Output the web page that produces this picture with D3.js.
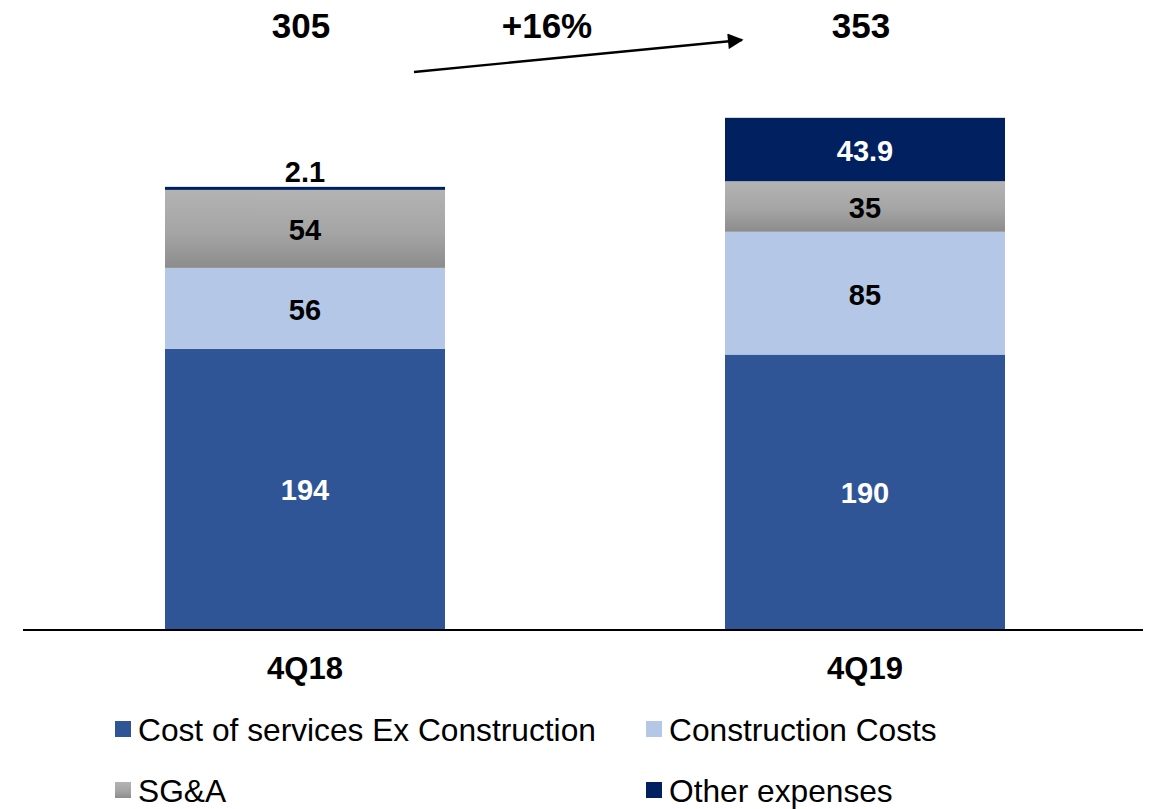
<!DOCTYPE html>
<html>
<head>
<meta charset="utf-8">
<script src="https://cdn.jsdelivr.net/npm/d3@7"></script>
<style>
  html, body { margin: 0; padding: 0; background: #ffffff; }
  svg { display: block; font-family: "Liberation Sans", Arial, Helvetica, sans-serif; }
</style>
</head>
<body>
<svg id="chart" width="1150" height="809"></svg>
<script>
// Quarterly expense breakdown (R$ million)
const categories = ["4Q18", "4Q19"];
const seriesNames = ["Cost of services Ex Construction", "Construction Costs", "SG&A", "Other expenses"];
const costOfServices = [194, 190];
const constructionCosts = [56, 85];
const sga = [54, 35];
const otherExpenses = [2.1, 43.9];
const totals = [305, 353];
const growthLabel = "+16%";

const seriesValues = [costOfServices, constructionCosts, sga, otherExpenses];
const colors = ["#2F5597", "#B4C7E7", "url(#sgaGrad)", "#002060"];
const labelColors = ["#ffffff", "#000000", "#000000", "#ffffff"];

const svg = d3.select("#chart");
const defs = svg.append("defs");

const grad = defs.append("linearGradient")
  .attr("id", "sgaGrad").attr("x1", 0).attr("y1", 0).attr("x2", 0).attr("y2", 1);
grad.append("stop").attr("offset", "0%").attr("stop-color", "#B3B3B3");
grad.append("stop").attr("offset", "55%").attr("stop-color", "#A5A5A5");
grad.append("stop").attr("offset", "100%").attr("stop-color", "#8C8C8C");

const marker = defs.append("marker")
  .attr("id", "arrowHead")
  .attr("viewBox", "0 0 10 10")
  .attr("refX", 9).attr("refY", 5)
  .attr("markerWidth", 7).attr("markerHeight", 6.5)
  .attr("markerUnits", "strokeWidth")
  .attr("orient", "auto");
marker.append("path").attr("d", "M0,0 L10,5 L0,10 Z").attr("fill", "#000");

const baseline = 629;
const x = d3.scaleBand().domain(categories).range([25, 1145]).paddingInner(0.5).paddingOuter(0.25);
const y = d3.scaleLinear().domain([0, 360]).range([baseline, 109]);

// stack the series per category
const rows = categories.map((c, i) => {
  const r = { cat: c };
  seriesNames.forEach((s, j) => { r[s] = seriesValues[j][i]; });
  return r;
});
const stacked = d3.stack().keys(seriesNames)(rows);

const layers = svg.append("g").selectAll("g")
  .data(stacked)
  .join("g")
  .attr("fill", (d, i) => colors[i]);

layers.selectAll("rect")
  .data(d => d)
  .join("rect")
  .attr("x", d => x(d.data.cat))
  .attr("width", x.bandwidth())
  .attr("y", d => y(d[1]))
  .attr("height", d => y(d[0]) - y(d[1]));

// segment value labels
stacked.forEach((layer, j) => {
  layer.forEach((d, i) => {
    const v = seriesValues[j][i];
    const h = y(d[0]) - y(d[1]);
    const cx = x(d.data.cat) + x.bandwidth() / 2;
    const small = h < 20;
    svg.append("text")
      .attr("x", cx)
      .attr("y", small ? y(d[1]) - 5 : (y(d[0]) + y(d[1])) / 2 + 1)
      .attr("dy", small ? 0 : "0.36em")
      .attr("text-anchor", "middle")
      .attr("font-size", 29)
      .attr("font-weight", "bold")
      .attr("fill", small ? "#000" : labelColors[j])
      .text(v);
  });
});

// baseline axis
svg.append("line")
  .attr("x1", 23).attr("x2", 1143)
  .attr("y1", baseline + 1).attr("y2", baseline + 1)
  .attr("stroke", "#000").attr("stroke-width", 2);

// category labels
const xAxis = d3.axisBottom(x).tickSize(0).tickPadding(0);
const ax = svg.append("g").attr("transform", `translate(0,${baseline})`).call(xAxis);
ax.select(".domain").remove();
ax.selectAll("text")
  .attr("y", 50)
  .attr("dy", 0)
  .attr("font-size", 31)
  .attr("font-weight", "bold")
  .attr("font-family", "'Liberation Sans', Arial, sans-serif")
  .attr("fill", "#000");

// totals above bars
categories.forEach((c, i) => {
  svg.append("text")
    .attr("x", x(c) + x.bandwidth() / 2 - 4)
    .attr("y", 38)
    .attr("text-anchor", "middle")
    .attr("font-size", 35)
    .attr("font-weight", "bold")
    .attr("fill", "#000")
    .text(totals[i]);
});

// growth arrow between the totals
const x1a = x(categories[0]) + x.bandwidth() - 31;
const x2a = x(categories[1]) + 17;
svg.append("line")
  .attr("x1", x1a).attr("y1", 72)
  .attr("x2", x2a).attr("y2", 40)
  .attr("stroke", "#000").attr("stroke-width", 2.4)
  .attr("marker-end", "url(#arrowHead)");
svg.append("text")
  .attr("x", (x1a + x2a) / 2 - 31)
  .attr("y", 38)
  .attr("text-anchor", "middle")
  .attr("font-size", 35)
  .attr("font-weight", "bold")
  .attr("fill", "#000")
  .text(growthLabel);

// legend
const legendPos = [[115, 741], [646, 741], [115, 802], [646, 802]];
seriesNames.forEach((s, i) => {
  const [lx, ly] = legendPos[i];
  svg.append("rect")
    .attr("x", lx).attr("y", ly - 20)
    .attr("width", 16).attr("height", 16)
    .attr("fill", colors[i]);
  svg.append("text")
    .attr("x", lx + 23).attr("y", ly)
    .attr("font-size", 31.7)
    .attr("fill", "#000")
    .text(s);
});
</script>
</body>
</html>
